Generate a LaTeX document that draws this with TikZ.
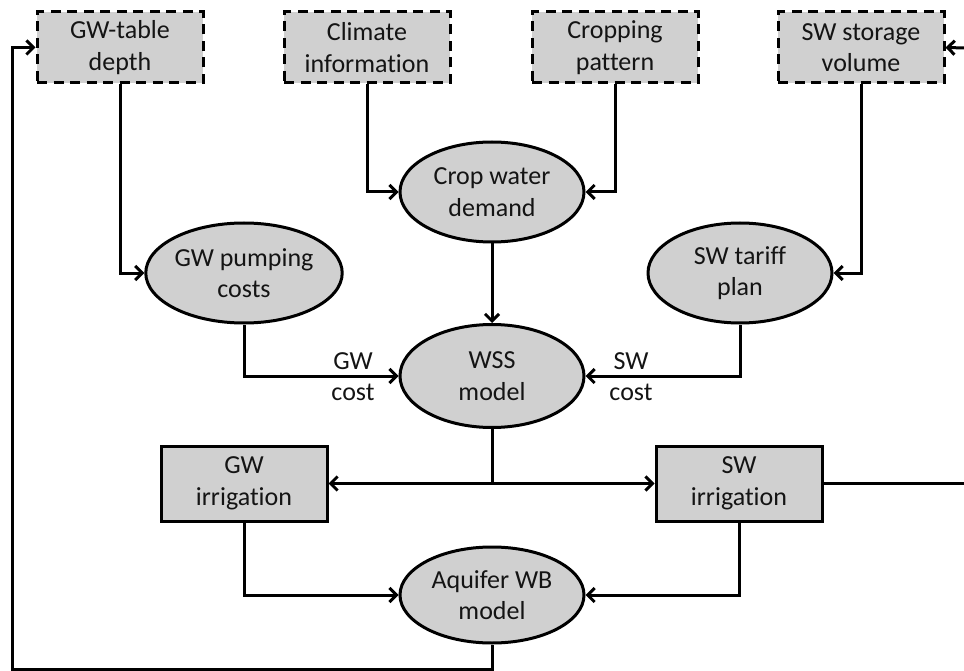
\documentclass[tikz,border=0pt]{standalone}
\usepackage{fontspec}
\setmainfont{Carlito}[Ligatures={NoCommon,NoRare}]
\usetikzlibrary{shapes.geometric,arrows.meta}
\definecolor{boxgray}{RGB}{208,208,208}
\definecolor{ink}{RGB}{20,20,20}
\tikzset{
  base/.style={fill=boxgray, draw=black, line width=3pt, text=ink, align=center,
    font=\fontsize{26}{31.5}\selectfont, inner sep=0pt},
  inbox/.style={base, rectangle, dash pattern=on 10pt off 6.5pt, minimum width=166pt, minimum height=71pt},
  procbox/.style={base, rectangle, minimum width=166pt, minimum height=75pt},
  proc/.style={base, ellipse, minimum width=184pt, minimum height=100pt},
  conn/.style={draw=black, line width=3pt},
  arr/.style={conn, -{Straight Barb[length=7pt,width=14pt]}},
  lab/.style={text=ink, align=center, font=\fontsize{26}{31}\selectfont, inner sep=0pt}
}
\begin{document}
\begin{tikzpicture}[x=1pt,y=-1pt]
\useasboundingbox (0,0) rectangle (964,671);
% inputs
\node[inbox] (gwt) at (120,47.5) {GW-table\\depth};
\node[inbox] (clim) at (367,47.5) {Climate\\information};
\node[inbox] (crop) at (615,47.5) {Cropping\\pattern};
\node[inbox] (sws) at (861,47.5) {SW storage\\volume};
% processes
\node[proc] (cwd) at (492,192) {Crop water\\demand};
\node[proc] (gwp) at (244,273) {GW pumping\\costs};
\node[proc] (swt) at (740,273) {SW tariff\\plan};
\node[proc, minimum height=103pt] (wss) at (492,376) {WSS\\model};
\node[procbox] (gwi) at (244,483.5) {GW\\irrigation};
\node[procbox] (swi) at (739,483.5) {SW\\irrigation};
\node[proc, minimum height=96pt] (aq) at (492,595) {Aquifer WB\\model};
% labels
\node[lab] (gwc) at (353,377) {GW\\cost};
\node[lab] (swc) at (631,377) {SW\\cost};
% free ends
\coordinate (split) at (492,483.5);
\coordinate (bl) at (12,669);
\coordinate (re) at (966,483.5);
\coordinate (rt) at (966,48);
% connectors
\draw[arr] (gwt.south) |- (gwp.west);
\draw[arr] (clim.south) |- (cwd.west);
\draw[arr] (crop.south) |- (cwd.east);
\draw[arr] (sws.south) |- (swt.east);
\draw[arr] (cwd.south) -- (wss.north);
\draw[arr] (gwp.south) |- (wss.west);
\draw[arr] (swt.south) |- (wss.east);
\draw[conn] (wss.south) -- (split);
\draw[arr] (split) -- (gwi.east);
\draw[arr] (split) -- (swi.west);
\draw[arr] (gwi.south) |- (aq.west);
\draw[arr] (swi.south) |- (aq.east);
\draw[arr] (aq.south) |- (bl) |- (gwt.west);
\draw[conn] (swi.east) -- (re);
\draw[arr] (rt) -- (sws.east);
\end{tikzpicture}
\end{document}
